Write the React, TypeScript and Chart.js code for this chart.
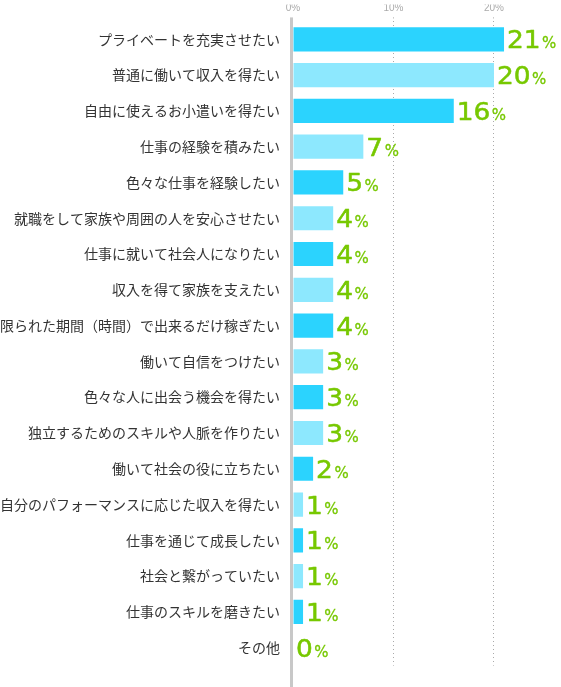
import React, { useEffect, useRef } from "react";
import { Chart, registerables } from "chart.js";

Chart.register(...registerables);

const categories: string[] = [
  "プライベートを充実させたい",
  "普通に働いて収入を得たい",
  "自由に使えるお小遣いを得たい",
  "仕事の経験を積みたい",
  "色々な仕事を経験したい",
  "就職をして家族や周囲の人を安心させたい",
  "仕事に就いて社会人になりたい",
  "収入を得て家族を支えたい",
  "限られた期間（時間）で出来るだけ稼ぎたい",
  "働いて自信をつけたい",
  "色々な人に出会う機会を得たい",
  "独立するためのスキルや人脈を作りたい",
  "働いて社会の役に立ちたい",
  "自分のパフォーマンスに応じた収入を得たい",
  "仕事を通じて成長したい",
  "社会と繋がっていたい",
  "仕事のスキルを磨きたい",
  "その他",
];

const values: number[] = [21, 20, 16, 7, 5, 4, 4, 4, 4, 3, 3, 3, 2, 1, 1, 1, 1, 0];

const xTickValues: number[] = [0, 10, 20];

const DARK = "#2BD3FE";
const LIGHT = "#8DE8FE";
const GREEN = "#77C800";

const barColors = values.map((_, i) => (i % 2 === 0 ? DARK : LIGHT));

const axisLinePlugin = {
  id: "axisLine",
  beforeDatasetsDraw(chart: any) {
    const { ctx, chartArea } = chart;
    ctx.save();
    ctx.fillStyle = "#c8c8c8";
    ctx.fillRect(chartArea.left - 3, chartArea.top - 4, 3, chart.height - chartArea.top + 4);
    ctx.restore();
  },
};

const valueLabelPlugin = {
  id: "valueLabels",
  afterDatasetsDraw(chart: any) {
    const { ctx } = chart;
    const meta = chart.getDatasetMeta(0);
    ctx.save();
    ctx.fillStyle = GREEN;
    ctx.strokeStyle = GREEN;
    ctx.lineJoin = "round";
    ctx.textBaseline = "alphabetic";
    ctx.textAlign = "left";
    meta.data.forEach((el: any, i: number) => {
      const num = String(values[i]);
      const x = el.x + 3;
      const y = el.y + 9;
      ctx.font = "24px 'DejaVu Sans'";
      const w = ctx.measureText(num).width;
      const sx = 1.1;
      ctx.save();
      ctx.translate(x, y);
      ctx.scale(sx, 1);
      ctx.lineWidth = 0.5;
      ctx.fillText(num, 0, 0);
      ctx.strokeText(num, 0, 0);
      ctx.restore();
      ctx.font = "15px 'DejaVu Sans'";
      ctx.lineWidth = 0.3;
      const px = x + w * sx + 1.5;
      ctx.fillText("%", px, y);
      ctx.strokeText("%", px, y);
    });
    ctx.restore();
  },
};

export default function App() {
  const canvasRef = useRef<HTMLCanvasElement | null>(null);

  useEffect(() => {
    if (!canvasRef.current) return;
    const chart = new Chart(canvasRef.current, {
      type: "bar",
      data: {
        labels: categories,
        datasets: [
          {
            data: values,
            backgroundColor: barColors,
            borderWidth: 0,
            categoryPercentage: 1,
            barPercentage: 25 / 37,
          },
        ],
      },
      options: {
        indexAxis: "y",
        animation: false,
        responsive: false,
        devicePixelRatio: 1,
        layout: { padding: { top: 0, right: 0, bottom: 4, left: 0 } },
        plugins: {
          legend: { display: false },
          tooltip: { enabled: false },
        },
        scales: {
          x: {
            position: "top",
            min: 0,
            max: 26.67,
            afterFit: (scale: any) => {
              scale.height = 17;
            },
            afterBuildTicks: (scale: any) => {
              scale.ticks = xTickValues.map((v) => ({ value: v }));
            },
            ticks: {
              padding: 3,
              color: "#aaaaaa",
              font: { family: "'Liberation Sans', Arial, sans-serif", size: 10 },
              callback: (v: any) => v + "%",
              maxRotation: 0,
            },
            grid: {
              color: (c: any) => (c.tick && c.tick.value === 0 ? "rgba(0,0,0,0)" : "#aaaaaa"),
              lineWidth: 1,
              tickBorderDash: [1, 3],
              drawTicks: true,
              tickLength: 4,
            },
            border: { display: false, dash: [1, 3] },
          },
          y: {
            afterFit: (scale: any) => {
              scale.width = 293;
            },
            ticks: {
              padding: 13,
              color: "#333333",
              font: { family: "'Noto Sans CJK JP', sans-serif", size: 14 },
              autoSkip: false,
            },
            grid: { display: false, drawTicks: false },
            border: { display: false },
          },
        },
      },
      plugins: [axisLinePlugin, valueLabelPlugin],
    } as any);
    return () => chart.destroy();
  }, []);

  return (
    <div style={{ position: "absolute", left: 0, top: 0, width: 561, height: 687, background: "#fff" }}>
      <canvas ref={canvasRef} width={561} height={687} />
    </div>
  );
}
